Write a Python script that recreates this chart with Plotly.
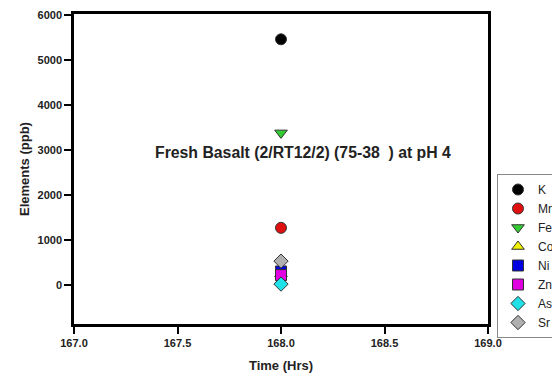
import plotly.graph_objects as go

# Single sampling time and measured element concentrations (ppb)
time_hrs = [168.0]
elements = ["K", "Mn", "Fe", "Co", "Ni", "Zn", "As", "Sr"]
conc_ppb = [5460, 1270, 3380, 250, 300, 220, 20, 530]

symbols = ["circle", "circle", "triangle-down", "triangle-up",
           "square", "square", "diamond", "diamond"]
colors = ["#000000", "#e01010", "#33cc33", "#f0f000",
          "#0000e0", "#e000e0", "#20e0e8", "#b0b0b0"]

x_ticks = [167.0, 167.5, 168.0, 168.5, 169.0]
y_ticks = [0, 1000, 2000, 3000, 4000, 5000, 6000]

fig = go.Figure()
for name, val, sym, col in zip(elements, conc_ppb, symbols, colors):
    fig.add_trace(go.Scatter(
        x=time_hrs, y=[val], name=name, mode="markers",
        marker=dict(symbol=sym, color=col, size=11,
                    line=dict(color="#333333", width=1)),
    ))

font_main = "Liberation Sans, Arial, sans-serif"
axis_common = dict(
    showline=True, linecolor="black", linewidth=2.5, mirror=True,
    ticks="outside", ticklen=7, tickwidth=2, tickcolor="black",
    showgrid=False, zeroline=False, automargin=False,
    tickfont=dict(family=font_main, size=11, color="#222222", weight="bold"),
)

fig.update_layout(
    width=552, height=374,
    margin=dict(l=74, r=64, t=14, b=50, autoexpand=False),
    paper_bgcolor="white", plot_bgcolor="white",
    showlegend=True,
    legend=dict(
        xref="container", yref="container",
        x=497 / 552, y=1 - 174 / 374, xanchor="left", yanchor="top",
        bordercolor="#888888", borderwidth=1, bgcolor="white",
        font=dict(family=font_main, size=12, color="#222222"),
        tracegroupgap=0,
    ),
    xaxis=dict(
        range=[167.0, 169.0], tickvals=x_ticks, tickformat=".1f",
        title=dict(text="Time (Hrs)", standoff=13,
                   font=dict(family=font_main, size=13, color="#222222", weight="bold")),
        **axis_common,
    ),
    yaxis=dict(
        range=[-867, 6022], tickvals=y_ticks,
        title=dict(text="Elements (ppb)", standoff=6,
                   font=dict(family=font_main, size=13, color="#222222", weight="bold")),
        **axis_common,
    ),
    annotations=[dict(
        text="Fresh Basalt (2/RT12/2) (75-38  ) at pH 4",
        xref="paper", yref="paper", x=0.553, y=0.552,
        showarrow=False,
        font=dict(family=font_main, size=15.8, color="#222222", weight="bold"),
    )],
)

fig.write_html("out.html")
